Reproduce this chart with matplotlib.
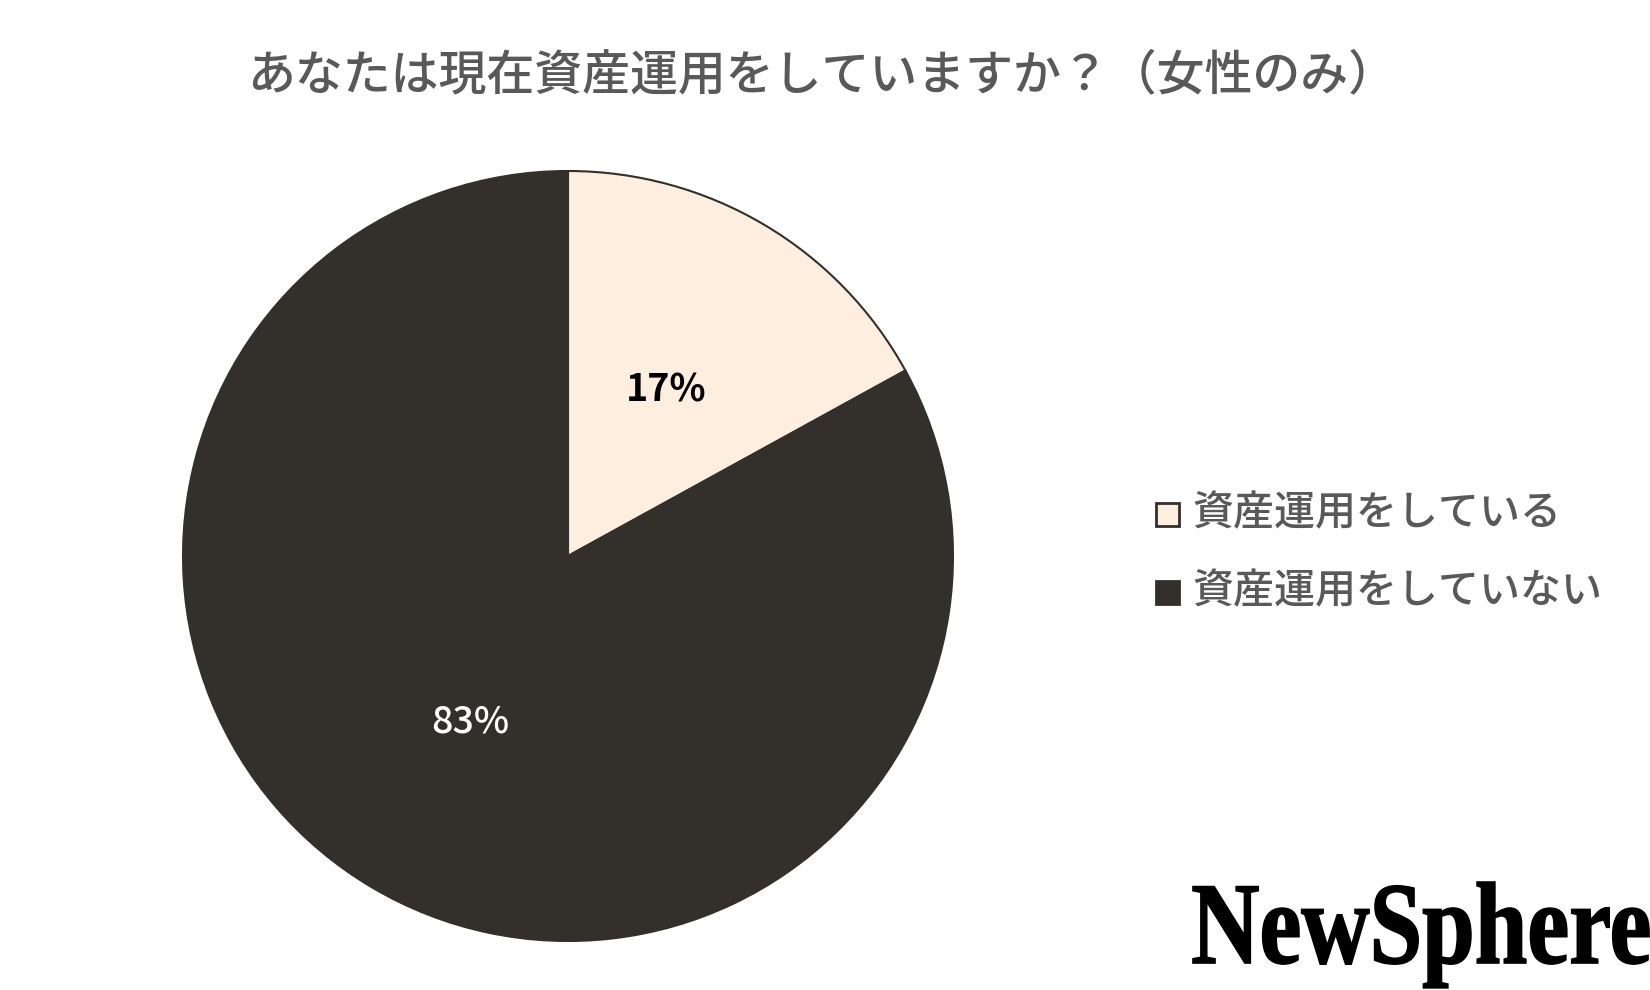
import matplotlib
matplotlib.use("Agg")
import matplotlib.pyplot as plt
import matplotlib.patches as patches
from matplotlib.textpath import TextPath
from matplotlib.font_manager import FontProperties
from matplotlib.transforms import Affine2D

plt.rcParams['font.family'] = ['Noto Sans CJK JP', 'DejaVu Sans']

title = "あなたは現在資産運用をしていますか？（女性のみ）"
labels = ["資産運用をしている", "資産運用をしていない"]
values = [17, 83]
colors = ["#FEEEDF", "#33302B"]
pct_colors = ["black", "white"]

W, H = 1650, 990
fig = plt.figure(figsize=(W / 100, H / 100), dpi=100)

# overlay axes in pixel units for legend / logo
ov = fig.add_axes([0, 0, 1, 1])
ov.set_xlim(0, W)
ov.set_ylim(0, H)
ov.axis("off")

# pie, center (568, 556 from top), radius 385 px
cx, cy, r = 568, H - 556, 385
ax = fig.add_axes([(cx - r) / W, (cy - r) / H, 2 * r / W, 2 * r / H])
wedges, texts, autotexts = ax.pie(values, colors=colors, startangle=90, counterclock=False,
                                  autopct="%d%%", pctdistance=0.5,
                                  wedgeprops=dict(edgecolor="#33302B", linewidth=1.5))
for t, c in zip(autotexts, pct_colors):
    t.set_color(c)
    t.set_fontsize(27)
    t.set_fontweight("medium" if c == "white" else "bold")
ax.set_xlim(-1, 1)
ax.set_ylim(-1, 1)
ax.set_aspect("equal")

fig.text(822 / W, 1 - 76 / H, title, ha="center", va="center", fontsize=34.5,
         color="#595959", fontweight="medium")

# legend
for i, (lab, col) in enumerate(zip(labels, colors)):
    y = H - (514 + 78 * i)
    ov.add_patch(patches.Rectangle((1156, y - 12), 23, 23, facecolor=col, edgecolor="#33302B", linewidth=2))
    ov.text(1192, y, lab, ha="left", va="center", fontsize=29.5, color="#595959", fontweight="medium")

# NewSphere logo, condensed serif
prop = FontProperties(family="Liberation Serif", weight="bold")
tp = TextPath((0, 0), "NewSphere", size=100, prop=prop)
bb = tp.get_extents()
sx = 456 / bb.width
sy = 77 / 66
tr = Affine2D().translate(-bb.x0, 0).scale(sx, sy).translate(1193, H - 963)
ov.add_patch(patches.PathPatch(tr.transform_path(tp), facecolor="black", edgecolor="black", linewidth=1.2))

fig.savefig("out.png", dpi=100, facecolor="white")
